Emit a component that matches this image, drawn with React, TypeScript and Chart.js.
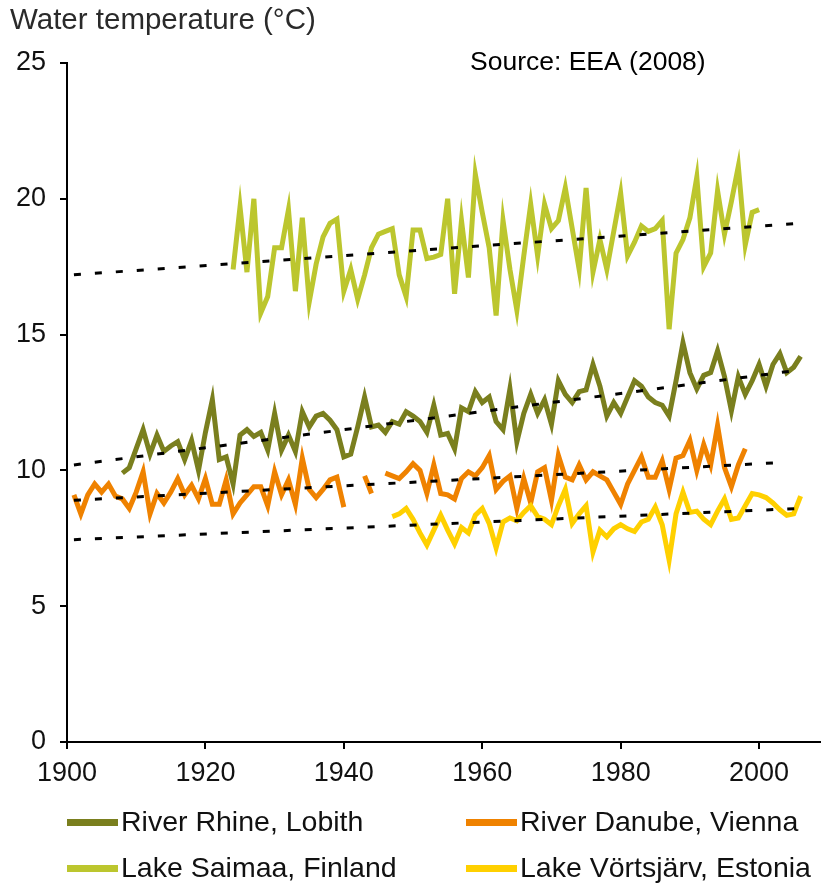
import React, { useEffect, useRef } from 'react';
import { Chart, registerables } from 'chart.js';
Chart.register(...registerables);

// ---------- data ----------
const seriesLabels = ['River Rhine, Lobith', 'River Danube, Vienna', 'Lake Saimaa, Finland', 'Lake Vörtsjärv, Estonia'];
const seriesColors = ['#7a7f1e', '#ef8200', '#bcc62e', '#ffd000'];

const rhineStart = 1908;
const rhineValues = [
  9.9, 10.1, 10.8, 11.5, 10.6, 11.3, 10.7, 10.9, 11.06, 10.4,
  11.1, 10.0, 11.4, 12.6, 10.4, 10.5, 9.5, 11.3, 11.5, 11.25,
  11.4, 10.75, 12.1, 10.75, 11.3, 10.7, 12.16, 11.6, 12.0, 12.1,
  11.85, 11.5, 10.5, 10.6, 11.6, 12.7, 11.6, 11.67, 11.4, 11.8,
  11.7, 12.16, 12.0, 11.8, 11.4, 12.4, 11.3, 11.36, 10.8, 12.3,
  12.16, 12.9, 12.5, 12.7, 11.8, 11.5, 13.0, 11.05, 12.1, 12.8,
  12.1, 12.6, 11.7, 13.3, 12.8, 12.5, 12.9, 12.96, 13.9, 13.1,
  12.0, 12.5, 12.1, 12.7, 13.3, 13.1, 12.7, 12.5, 12.4, 12.0,
  13.3, 14.7, 13.6, 13.0, 13.5, 13.6, 14.4, 13.45, 12.2, 13.45,
  12.8, 13.3, 13.9, 13.1, 13.9, 14.3, 13.6, 13.8, 14.2,
];

const danubeStart = 1901;
const danubeValues: (number | null)[] = [
  9.1, 8.4, 9.1, 9.5, 9.2, 9.5, 9.05, 8.95, 8.6, 9.2,
  9.95, 8.4, 9.15, 8.8, 9.2, 9.7, 9.1, 9.45, 8.95, 9.7,
  8.75, 8.75, 9.65, 8.4, 8.8, 9.1, 9.4, 9.4, 8.7, 9.95,
  9.1, 9.65, 8.75, 10.45, 9.3, 9.0, 9.3, 9.65, 9.75, 8.65,
  null, null, 9.8, 9.15, null, 9.9, 9.8, 9.7, 9.95, 10.25,
  10.0, 9.15, 10.2, 9.15, 9.1, 8.95, 9.7, 9.95, 9.8, 10.1,
  10.55, 9.3, 9.6, 9.8, 8.6, 9.7, 8.8, 9.95, 10.1, 8.9,
  10.55, 9.75, 9.65, 10.2, 9.65, 9.95, 9.8, 9.65, 9.2, 8.75,
  9.5, 10.0, 10.5, 9.75, 9.75, 10.35, 9.3, 10.45, 10.55, 11.1,
  10.0, 10.95, 10.2, 11.65, 10.1, 9.4, 10.2, 10.8,
];

const saimaaStart = 1924;
const saimaaValues = [
  17.4, 19.7, 17.3, 20.0, 15.8, 16.4, 18.2, 18.2, 19.6, 16.6,
  19.3, 16.2, 17.6, 18.6, 19.1, 19.25, 16.6, 17.4, 16.3, 17.2,
  18.2, 18.7, 18.8, 18.9, 17.2, 16.4, 18.85, 18.85, 17.8, 17.85,
  17.95, 20.0, 16.5, 19.2, 17.1, 20.9, 19.5, 18.2, 15.7, 19.2,
  17.4, 15.9, 17.9, 19.8, 17.9, 19.8, 18.9, 19.2, 20.4, 18.9,
  17.4, 20.4, 17.3, 18.5, 17.4, 18.8, 20.2, 17.9, 18.4, 19.0,
  18.8, 18.9, 19.2, 15.2, 18.0, 18.5, 19.3, 20.8, 17.5, 18.0,
  20.3, 18.7, 19.9, 21.2, 18.3, 19.5, 19.6,
];

const vortsStart = 1947;
const vortsValues = [
  8.3, 8.4, 8.6, 8.2, 7.7, 7.25, 7.8, 8.35, 7.8, 7.3,
  7.9, 7.7, 8.35, 8.6, 8.05, 7.15, 8.1, 8.25, 8.15, 8.45,
  8.7, 8.3, 8.2, 8.0, 8.7, 9.3, 8.05, 8.4, 8.7, 7.0,
  7.8, 7.55, 7.85, 8.0, 7.85, 7.75, 8.1, 8.2, 8.65, 8.0,
  6.7, 8.4, 9.2, 8.45, 8.5, 8.2, 8.0, 8.5, 8.95, 8.2,
  8.25, 8.7, 9.15, 9.1, 9.0, 8.8, 8.55, 8.35, 8.4, 9.05,
];

// linear trends: [startYear, startValue, endYear, endValue]
const rhineTrend = [1901, 10.2, 2006, 13.7];
const danubeTrend = [1901, 8.9, 2004, 10.3];
const saimaaTrend = [1901, 17.2, 2006, 19.1];
const vortsTrend = [1901, 7.45, 2006, 8.6];

const xTickYears = [1900, 1920, 1940, 1960, 1980, 2000];
const yTickValues = [0, 5, 10, 15, 20, 25];
const xMin = 1900;
const xMax = 2008.8;
const yMin = 0;
const yMax = 25;

const titleText = 'Water temperature (°C)';
const sourceText = 'Source: EEA (2008)';

// ---------- helpers ----------
const toPoints = (start: number, vals: (number | null)[]) =>
  vals.map((v, i) => ({ x: start + i, y: v }));
const trendPoints = (t: number[]) => [
  { x: t[0], y: t[1] },
  { x: t[2], y: t[3] },
];

const FONT = '"Liberation Sans", Arial, Helvetica, sans-serif';

const overlayPlugin = {
  id: 'overlay',
  afterDraw(chart: any) {
    const ctx = chart.ctx;
    ctx.save();
    ctx.fillStyle = '#2a2a2a';
    ctx.textBaseline = 'alphabetic';
    ctx.textAlign = 'left';
    ctx.font = `29.5px ${FONT}`;
    ctx.fillText(titleText, 10, 29);
    ctx.fillStyle = '#000';
    ctx.font = `26.5px ${FONT}`;
    ctx.fillText(sourceText, 470, 70);

    // legend
    const cols = [67, 466];
    const rows = [822, 868];
    ctx.font = `28.5px ${FONT}`;
    ctx.textBaseline = 'middle';
    seriesLabels.forEach((lab, i) => {
      const x = cols[i % 2];
      const y = rows[Math.floor(i / 2)];
      ctx.fillStyle = seriesColors[i];
      ctx.fillRect(x, y - 3, 51, 7);
      ctx.fillStyle = '#111';
      ctx.fillText(lab, x + 54, y + 1);
    });
    ctx.restore();
  },
};

export default function App() {
  const ref = useRef<HTMLCanvasElement | null>(null);
  useEffect(() => {
    document.body.style.margin = '0';
    const canvas = ref.current!;
    const seriesData = [
      toPoints(rhineStart, rhineValues),
      toPoints(danubeStart, danubeValues),
      toPoints(saimaaStart, saimaaValues),
      toPoints(vortsStart, vortsValues),
    ];
    const trends = [rhineTrend, danubeTrend, saimaaTrend, vortsTrend];
    const trendSets = trends.map((t) => ({
      label: 'trend',
      data: trendPoints(t),
      borderColor: '#000',
      borderWidth: 3,
      borderDash: [7, 14],
      pointRadius: 0,
      fill: false,
    }));
    const seriesSets = seriesData.map((d, i) => ({
      label: seriesLabels[i],
      data: d,
      borderColor: seriesColors[i],
      borderWidth: 5,
      borderJoinStyle: 'miter' as const,
      pointRadius: 0,
      spanGaps: false,
      fill: false,
      tension: 0,
    }));
    const chart = new Chart(canvas, {
      type: 'line',
      data: { datasets: [...trendSets, ...seriesSets.reverse()] as any },
      options: {
        animation: false,
        responsive: false,
        devicePixelRatio: 1,
        parsing: true,
        layout: { padding: { top: 63, right: 1, bottom: 0, left: 0 } },
        plugins: { legend: { display: false }, tooltip: { enabled: false }, title: { display: false } },
        scales: {
          x: {
            type: 'linear',
            min: xMin,
            max: xMax,
            afterFit: (s: any) => { s.height = 141; },
            afterBuildTicks: (s: any) => { s.ticks = xTickYears.map((v) => ({ value: v })); },
            grid: { drawOnChartArea: false, drawTicks: true, tickLength: 7, color: '#000', lineWidth: 2 },
            border: { display: true, color: '#000', width: 2 },
            ticks: { color: '#111', font: { family: FONT, size: 27 }, padding: 8, maxRotation: 0, callback: (v: any) => String(v) },
          },
          y: {
            type: 'linear',
            min: yMin,
            max: yMax,
            afterFit: (s: any) => { s.width = 67; },
            afterBuildTicks: (s: any) => { s.ticks = yTickValues.map((v) => ({ value: v })); },
            grid: { drawOnChartArea: false, drawTicks: true, tickLength: 7, color: '#000', lineWidth: 2 },
            border: { display: true, color: '#000', width: 2 },
            ticks: { color: '#111', font: { family: FONT, size: 27 }, padding: 14 },
          },
        },
      },
      plugins: [overlayPlugin],
    });
    return () => chart.destroy();
  }, []);
  return (
    <div style={{ width: 821, height: 883 }}>
      <canvas ref={ref} width={821} height={883} style={{ display: 'block' }} />
    </div>
  );
}
